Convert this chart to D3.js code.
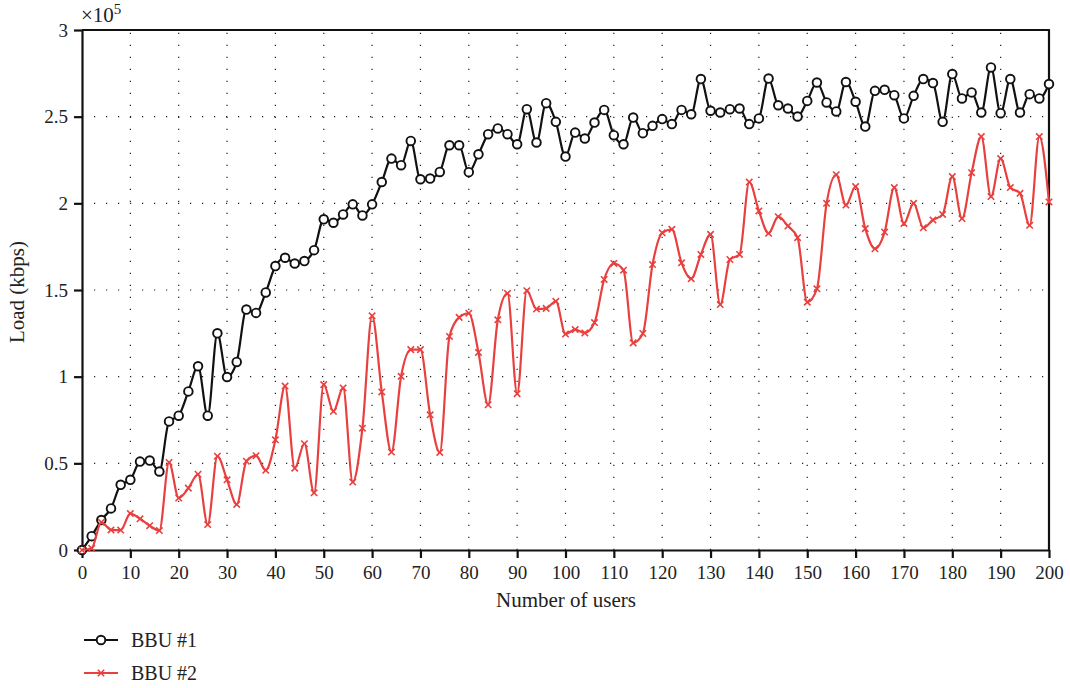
<!DOCTYPE html>
<html><head><meta charset="utf-8">
<script src="https://cdn.jsdelivr.net/npm/d3@7"></script>
<style>
body{margin:0;background:#fff}
svg{display:block}
text{font-family:"Liberation Serif","DejaVu Serif",serif;fill:#222}
</style>
</head><body><svg id="c" width="1070" height="688"></svg>
<script>
// Number of users (x categories)
const users = [0,2,4,6,8,10,12,14,16,18,20,22,24,26,28,30,32,34,36,38,40,42,44,46,48,50,52,54,56,58,60,62,64,66,68,70,72,74,76,78,80,82,84,86,88,90,92,94,96,98,100,102,104,106,108,110,112,114,116,118,120,122,124,126,128,130,132,134,136,138,140,142,144,146,148,150,152,154,156,158,160,162,164,166,168,170,172,174,176,178,180,182,184,186,188,190,192,194,196,198,200];
// Load in units of 10^5 kbps
const bbu1 = [0,0.08,0.173,0.24,0.376,0.405,0.51,0.516,0.453,0.742,0.775,0.915,1.06,0.775,1.25,0.998,1.085,1.387,1.368,1.486,1.638,1.686,1.653,1.667,1.73,1.908,1.888,1.936,1.994,1.93,1.994,2.123,2.258,2.22,2.36,2.139,2.143,2.181,2.335,2.335,2.18,2.283,2.399,2.432,2.399,2.341,2.543,2.351,2.578,2.47,2.27,2.408,2.374,2.466,2.539,2.393,2.341,2.495,2.405,2.447,2.486,2.457,2.539,2.514,2.717,2.534,2.524,2.543,2.547,2.457,2.49,2.72,2.566,2.547,2.501,2.591,2.697,2.582,2.53,2.70,2.586,2.443,2.649,2.655,2.624,2.49,2.62,2.717,2.694,2.47,2.746,2.605,2.64,2.524,2.784,2.52,2.717,2.524,2.63,2.605,2.688];
const bbu2 = [0,0.01,0.16,0.116,0.115,0.21,0.18,0.14,0.112,0.505,0.3,0.357,0.437,0.147,0.541,0.405,0.263,0.512,0.544,0.46,0.636,0.946,0.472,0.613,0.33,0.954,0.80,0.935,0.392,0.703,1.351,0.912,0.565,1.002,1.156,1.156,0.78,0.563,1.232,1.342,1.366,1.14,0.838,1.328,1.48,0.902,1.496,1.39,1.394,1.435,1.246,1.272,1.252,1.312,1.561,1.653,1.614,1.195,1.249,1.647,1.83,1.85,1.657,1.565,1.705,1.821,1.416,1.676,1.705,2.123,1.956,1.827,1.923,1.869,1.802,1.43,1.507,2.0,2.165,1.99,2.097,1.854,1.738,1.834,2.091,1.884,2.0,1.859,1.904,1.936,2.154,1.912,2.177,2.385,2.039,2.258,2.091,2.058,1.873,2.385,2.008];
const xTicks = [0,10,20,30,40,50,60,70,80,90,100,110,120,130,140,150,160,170,180,190,200];
const yTicks = [0,0.5,1,1.5,2,2.5,3];
const yTickLabels = ["0","0.5","1","1.5","2","2.5","3"];
const seriesNames = ["BBU #1","BBU #2"];
const seriesColors = ["#111111","#e8403f"];

const svg = d3.select("#c");
const L=82, R=1049, T=30, B=550;
const x = d3.scaleLinear().domain([0,200]).range([L,R]);
const y = d3.scaleLinear().domain([0,3]).range([B,T]);

// grid
const g = svg.append("g");
g.selectAll("line.vg").data(xTicks.slice(1,-1)).join("line")
  .attr("x1",d=>x(d)).attr("x2",d=>x(d)).attr("y1",B).attr("y2",T)
  .attr("stroke","#222").attr("stroke-width",1.2).attr("stroke-dasharray","1.2,10.8");
g.selectAll("line.hg").data(yTicks.slice(1,-1)).join("line")
  .attr("x1",L).attr("x2",R).attr("y1",d=>y(d)).attr("y2",d=>y(d))
  .attr("stroke","#222").attr("stroke-width",1.2).attr("stroke-dasharray","1.2,10.8");

// axes
const xa = svg.append("g").attr("transform",`translate(0,${B})`)
  .call(d3.axisBottom(x).tickValues(xTicks).tickSize(8).tickSizeOuter(0).tickPadding(8));
const ya = svg.append("g").attr("transform",`translate(${L},0)`)
  .call(d3.axisLeft(y).tickValues(yTicks).tickFormat((d,i)=>yTickLabels[i]).tickSize(8).tickSizeOuter(0).tickPadding(6));
[xa,ya].forEach(a=>{
  a.select(".domain").attr("stroke","#111").attr("stroke-width",2.2);
  a.selectAll(".tick line").attr("stroke","#111").attr("stroke-width",2.2);
  a.selectAll(".tick text").attr("font-size",19).attr("font-family",'"Liberation Serif",serif').attr("fill","#222");
});
// top & right frame
svg.append("line").attr("x1",L).attr("x2",R+1).attr("y1",T).attr("y2",T).attr("stroke","#111").attr("stroke-width",2.2);
svg.append("line").attr("x1",R).attr("x2",R).attr("y1",T).attr("y2",B).attr("stroke","#111").attr("stroke-width",2.2);

// multiplier
const mt = svg.append("text").attr("x",81).attr("y",22).attr("font-size",21);
mt.append("tspan").text("×10");
mt.append("tspan").attr("dy",-8).attr("font-size",15).text("5");

// axis labels
svg.append("text").attr("x",566).attr("y",607).attr("text-anchor","middle").attr("font-size",21).text("Number of users");
svg.append("text").attr("transform",`translate(24,292) rotate(-90)`).attr("text-anchor","middle").attr("font-size",21).text("Load (kbps)");

// series
const line = d3.line().curve(d3.curveMonotoneX).x((d,i)=>x(users[i])).y(d=>y(d));
const circ = (sel)=>sel.append("circle").attr("r",4.3).attr("fill","#fff").attr("stroke",seriesColors[0]).attr("stroke-width",1.9);
const cross = (sel)=>sel.append("path").attr("d","M-3.2,-3.2L3.2,3.2M-3.2,3.2L3.2,-3.2").attr("stroke",seriesColors[1]).attr("stroke-width",1.6).attr("fill","none");

svg.append("path").datum(bbu1).attr("d",line).attr("fill","none").attr("stroke",seriesColors[0]).attr("stroke-width",2.2).attr("stroke-linejoin","round");
svg.append("g").selectAll("g").data(bbu1).join("g").attr("transform",(d,i)=>`translate(${x(users[i])},${y(d)})`).each(function(){circ(d3.select(this));});

svg.append("path").datum(bbu2).attr("d",line).attr("fill","none").attr("stroke",seriesColors[1]).attr("stroke-width",2.2).attr("stroke-linejoin","round");
svg.append("g").selectAll("g").data(bbu2).join("g").attr("transform",(d,i)=>`translate(${x(users[i])},${y(d)})`).each(function(){cross(d3.select(this));});

// legend
const leg = [{y:640},{y:673}];
leg.forEach((l,i)=>{
  const lg = svg.append("g");
  lg.append("line").attr("x1",84).attr("x2",118).attr("y1",l.y).attr("y2",l.y).attr("stroke",seriesColors[i]).attr("stroke-width",2.2);
  const mk = lg.append("g").attr("transform",`translate(101,${l.y})`);
  if(i===0) circ(mk); else cross(mk);
  lg.append("text").attr("x",131).attr("y",l.y+7).attr("font-size",20).text(seriesNames[i]);
});
</script>
</body></html>
